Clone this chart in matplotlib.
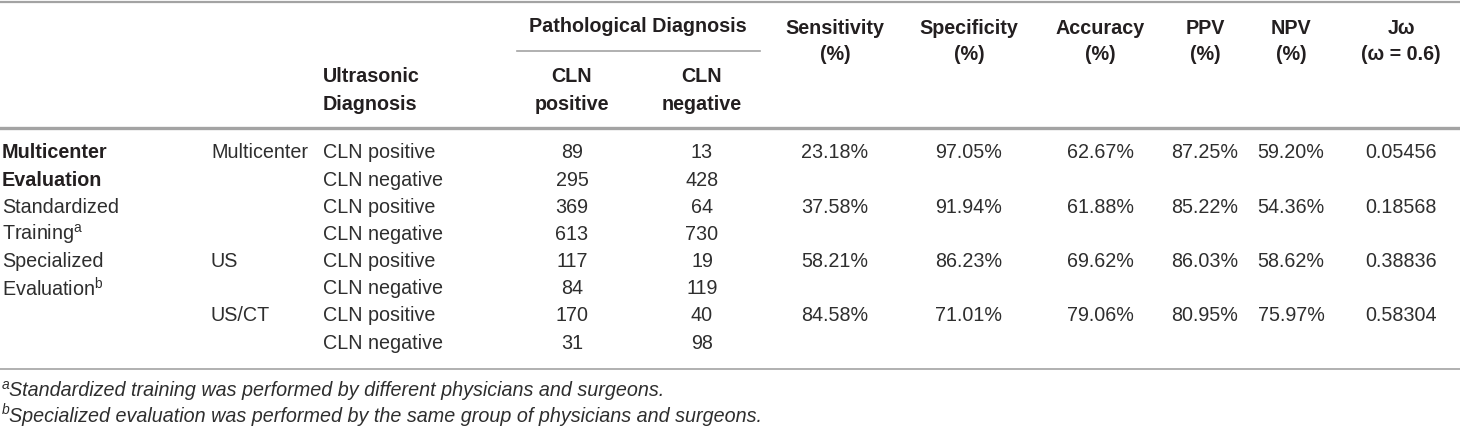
import matplotlib
matplotlib.use('Agg')
import matplotlib.pyplot as plt

plt.rcParams['font.family'] = ['Liberation Sans', 'DejaVu Sans']
plt.rcParams['mathtext.fontset'] = 'custom'
plt.rcParams['mathtext.rm'] = 'Liberation Sans'
plt.rcParams['mathtext.it'] = 'Liberation Sans:italic'

# table data
group_lines = ['Multicenter', 'Evaluation', 'Standardized', 'Training$^{\\mathrm{a}}$',
               'Specialized', 'Evaluation$^{\\mathrm{b}}$', '', '']
group_bold = [True, True, False, False, False, False, False, False]
method = ['Multicenter', '', '', '', 'US', '', 'US/CT', '']
us_diag = ['CLN positive', 'CLN negative'] * 4
path_pos = [89, 295, 369, 613, 117, 84, 170, 31]
path_neg = [13, 428, 64, 730, 19, 119, 40, 98]

sensitivity = [23.18, 37.58, 58.21, 84.58]
specificity = [97.05, 91.94, 86.23, 71.01]
accuracy = [62.67, 61.88, 69.62, 79.06]
ppv = [87.25, 85.22, 86.03, 80.95]
npv = [59.20, 54.36, 58.62, 75.97]
j_omega = [0.05456, 0.18568, 0.38836, 0.58304]

metric_heads = ['Sensitivity', 'Specificity', 'Accuracy', 'PPV', 'NPV', 'J\u03c9']
metric_sub = ['(%)', '(%)', '(%)', '(%)', '(%)', '(\u03c9 = 0.6)']

foot_marks = ['a', 'b']
foot_texts = ['Standardized training was performed by different physicians and surgeons.',
              'Specialized evaluation was performed by the same group of physicians and surgeons.']

txt = '#231f20'
body_c = '#2e2e2e'
line_c = '#a3a3a3'
fs = 14.2

fig = plt.figure(figsize=(14.6, 4.26), dpi=100)
ax = fig.add_axes([0, 0, 1, 1])
ax.set_xlim(0, 1460)
ax.set_ylim(426, 0)
ax.axis('off')

# rules
ax.plot([0, 1460], [1.5, 1.5], color=line_c, lw=1.6)
ax.plot([517, 760], [51, 51], color=line_c, lw=1.2)
ax.plot([0, 1460], [128, 128], color=line_c, lw=2.4)
ax.plot([0, 1460], [369, 369], color=line_c, lw=1.2)

# header
ax.text(638, 26, 'Pathological Diagnosis', ha='center', va='center', fontsize=fs, weight='bold', color=txt)
ax.text(323, 77, 'Ultrasonic', ha='left', va='center', fontsize=fs, weight='bold', color=txt)
ax.text(323, 104, 'Diagnosis', ha='left', va='center', fontsize=fs, weight='bold', color=txt)
for cx, label in zip([572, 702], ['positive', 'negative']):
    ax.text(cx, 77, 'CLN', ha='center', va='center', fontsize=fs, weight='bold', color=txt)
    ax.text(cx, 104, label, ha='center', va='center', fontsize=fs, weight='bold', color=txt)

metric_x = [835, 969, 1100, 1205, 1291, 1401]
for cx, h, s in zip(metric_x, metric_heads, metric_sub):
    ax.text(cx, 28, h, ha='center', va='center', fontsize=fs, weight='bold', color=txt)
    ax.text(cx, 54, s, ha='center', va='center', fontsize=fs, weight='bold', color=txt)

# body
row_y = [153 + 27.15 * i for i in range(8)]
for i, y in enumerate(row_y):
    if group_lines[i]:
        ax.text(2, y, group_lines[i], ha='left', va='center', fontsize=fs,
                weight='bold' if group_bold[i] else 'normal',
                color=txt if group_bold[i] else body_c)
    if method[i]:
        ax.text(211, y, method[i], ha='left', va='center', fontsize=fs, color=body_c)
    ax.text(323, y, us_diag[i], ha='left', va='center', fontsize=fs, color=body_c)
    ax.text(572, y, str(path_pos[i]), ha='center', va='center', fontsize=fs, color=body_c)
    ax.text(702, y, str(path_neg[i]), ha='center', va='center', fontsize=fs, color=body_c)

for k in range(4):
    y = row_y[2 * k]
    vals = ['%.2f%%' % sensitivity[k], '%.2f%%' % specificity[k], '%.2f%%' % accuracy[k],
            '%.2f%%' % ppv[k], '%.2f%%' % npv[k], '%.5f' % j_omega[k]]
    for cx, v in zip(metric_x, vals):
        ax.text(cx, y, v, ha='center', va='center', fontsize=fs, color=body_c)

# footnotes
for y, m, t in zip([391, 416], foot_marks, foot_texts):
    ax.text(2, y - 6, m, ha='left', va='center', fontsize=10, style='italic', color=body_c)
    ax.text(9, y, t, ha='left', va='center', fontsize=fs, style='italic', color=body_c)

fig.savefig('out.png', dpi=100)
